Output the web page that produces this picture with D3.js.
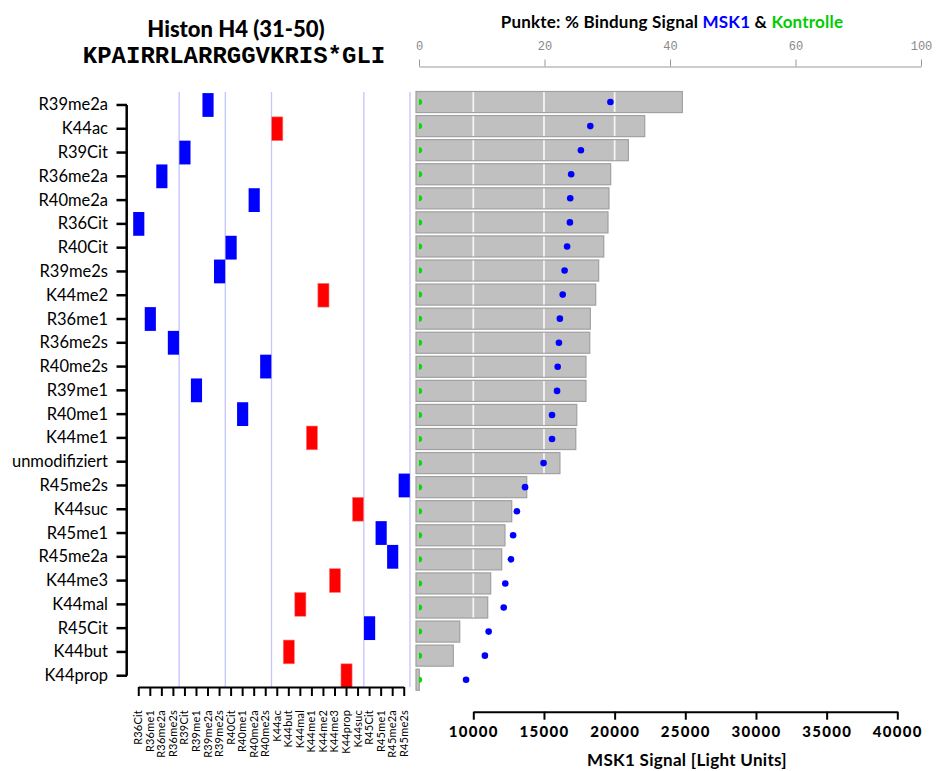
<!DOCTYPE html>
<html><head><meta charset="utf-8">
<script src="https://cdn.jsdelivr.net/npm/d3@7"></script>
<style>body{margin:0;background:#fff}</style>
</head><body><svg id="c" width="940" height="771"></svg>
<script>
// ---------- DATA ----------
const rows = ["R39me2a","K44ac","R39Cit","R36me2a","R40me2a","R36Cit","R40Cit","R39me2s","K44me2","R36me1","R36me2s","R40me2s","R39me1","R40me1","K44me1","unmodifiziert","R45me2s","K44suc","R45me1","R45me2a","K44me3","K44mal","R45Cit","K44but","K44prop"];
const rowModification = ["R39me2a","K44ac","R39Cit","R36me2a","R40me2a","R36Cit","R40Cit","R39me2s","K44me2","R36me1","R36me2s","R40me2s","R39me1","R40me1","K44me1",null,"R45me2s","K44suc","R45me1","R45me2a","K44me3","K44mal","R45Cit","K44but","K44prop"];
const columns = ["R36Cit","R36me1","R36me2a","R36me2s","R39Cit","R39me1","R39me2a","R39me2s","R40Cit","R40me1","R40me2a","R40me2s","K44ac","K44but","K44mal","K44me1","K44me2","K44me3","K44prop","K44suc","R45Cit","R45me1","R45me2a","R45me2s"];
const msk1Signal = [24790,22130,20970,19720,19600,19530,19230,18870,18660,18280,18240,17970,17970,17320,17250,16130,13780,12720,12240,12010,11230,11020,9040,8585,6180];
const msk1Percent = [30.5,27.3,25.8,24.25,24.1,24.05,23.6,23.2,22.9,22.45,22.3,22.1,22.0,21.2,21.2,19.85,16.9,15.6,15.0,14.65,13.75,13.5,11.1,10.5,7.5];
const kontrollePercent = [0.1,0.1,0.1,0.1,0.1,0.1,0.1,0.1,0.1,0.1,0.1,0.1,0.1,0.1,0.1,0.1,0.1,0.1,0.1,0.1,0.1,0.1,0.1,0.1,0.1];
const pctTickValues = [0,20,40,60,80];
const pctTickLabels = ["0","20","40","60","100"];
const signalTicks = [10000,15000,20000,25000,30000,35000,40000];
const signalGrid = [10000,15000,20000,25000];

// ---------- SETUP ----------
const svg = d3.select("#c");
const FONT = "Lato, 'Open Sans', sans-serif";
const BLUE = "#0000ff", RED = "#ff0000", GREEN = "#00dd00";

// Titles
svg.append("text").attr("x",236).attr("y",37).attr("text-anchor","middle")
  .style("font-family",FONT).style("font-weight","900").style("font-size","22px")
  .text("Histon H4 (31-50)");
svg.append("text").attr("x",234).attr("y",63).attr("text-anchor","middle")
  .style("font-family","'Liberation Mono','Courier New',monospace").style("font-weight","bold").style("font-size","24px")
  .text("KPAIRRLARRGGVKRIS*GLI");

const hdr = svg.append("text").attr("x",672).attr("y",28).attr("text-anchor","middle")
  .style("font-family",FONT).style("font-weight","bold").style("font-size","17px").style("letter-spacing","0.2px");
hdr.append("tspan").attr("fill","#000").text("Punkte: % Bindung Signal ");
hdr.append("tspan").attr("fill",BLUE).text("MSK1");
hdr.append("tspan").attr("fill","#000").text(" & ");
hdr.append("tspan").attr("fill","#00cc00").text("Kontrolle");

// ---------- LEFT PANEL ----------
const yL = d3.scaleBand().domain(rows).range([93.1, 687.6]);
const xC = d3.scaleBand().domain(columns).range([133, 410]);
const cx = c => xC(c) + xC.bandwidth()/2;
const cyL = r => yL(r) + yL.bandwidth()/2;

// group separators
const seps = [];
columns.forEach((c,i) => {
  const g = c.slice(0,3);
  const next = columns[i+1];
  if (!next || next.slice(0,3) !== g) seps.push(xC(c) + xC.bandwidth());
});
svg.append("g").selectAll("line").data(seps).join("line")
  .attr("x1",d=>d).attr("x2",d=>d).attr("y1",92).attr("y2",687)
  .attr("stroke","#c4c4ff").attr("stroke-width",1.3);

// modification rects
svg.append("g").selectAll("rect")
  .data(rows.map((r,i)=>({r, m:rowModification[i]})).filter(d=>d.m))
  .join("rect")
  .attr("x",d=>xC(d.m)+0.2).attr("width",xC.bandwidth()-0.4)
  .attr("y",d=>yL(d.r)).attr("height",yL.bandwidth())
  .attr("fill",d=>d.m[0]==="K"?RED:BLUE)
  .attr("stroke",d=>d.m[0]==="K"?"#ff8080":"none").attr("stroke-width",0.6);

// left y axis
const ya = svg.append("g");
ya.append("line").attr("x1",126.7).attr("x2",126.7)
  .attr("y1",cyL(rows[0])).attr("y2",cyL(rows[rows.length-1]))
  .attr("stroke","#000").attr("stroke-width",2.5);
ya.selectAll("line.t").data(rows).join("line").attr("class","t")
  .attr("x1",116.5).attr("x2",127).attr("y1",cyL).attr("y2",cyL)
  .attr("stroke","#000").attr("stroke-width",2.5);
ya.selectAll("text").data(rows).join("text")
  .attr("x",108).attr("y",d=>cyL(d)+5.5).attr("text-anchor","end")
  .style("font-family",FONT).style("font-size","16.5px").text(d=>d);

// left x axis
const xa = svg.append("g");
xa.append("line").attr("x1",cx(columns[0])).attr("x2",cx(columns[columns.length-1]))
  .attr("y1",687.5).attr("y2",687.5).attr("stroke","#000").attr("stroke-width",2);
xa.selectAll("line.t").data(columns).join("line").attr("class","t")
  .attr("x1",cx).attr("x2",cx).attr("y1",687).attr("y2",696)
  .attr("stroke","#000").attr("stroke-width",2);
xa.selectAll("text").data(columns).join("text")
  .attr("transform",d=>`translate(${cx(d)+3.5},710) rotate(-90)`)
  .attr("text-anchor","end")
  .style("font-family",FONT).style("font-size","11px").style("letter-spacing","0.2px").text(d=>d);

// ---------- RIGHT PANEL ----------
const panelLeft = 416;
const yR = d3.scaleBand().domain(rows).range([90, 691.75]).paddingInner(0.125).paddingOuter(0.0625);
const cyR = r => yR(r) + yR.bandwidth()/2;
const xS = d3.scaleLinear().domain([10000,40000]).range([473.3,897.3]);
const xP = d3.scaleLinear().domain([0,80]).range([419,921]);

// bars
const bars = svg.append("g");
bars.selectAll("rect").data(rows).join("rect")
  .attr("x",panelLeft).attr("y",d=>yR(d))
  .attr("width",(d,i)=>Math.max(0,xS(msk1Signal[i])-panelLeft))
  .attr("height",yR.bandwidth())
  .attr("fill","#c0c0c0").attr("stroke","#a0a0a0").attr("stroke-width",1.2);
// white gridlines inside bars
const gridSegs = [];
rows.forEach((r,i)=>signalGrid.forEach(g=>{ if (xS(g) < xS(msk1Signal[i]) - 1) gridSegs.push({r,g}); }));
bars.selectAll("line").data(gridSegs).join("line")
  .attr("x1",d=>xS(d.g)).attr("x2",d=>xS(d.g))
  .attr("y1",d=>yR(d.r)+0.6).attr("y2",d=>yR(d.r)+yR.bandwidth()-0.6)
  .attr("stroke","#f4f4f4").attr("stroke-width",1.8);

// top percent axis
const topAx = svg.append("g").attr("transform","translate(0,66.5)")
  .call(d3.axisTop(xP).tickValues(pctTickValues).tickFormat((d,i)=>pctTickLabels[i])
    .tickSize(7).tickSizeOuter(0).tickPadding(10));
topAx.select(".domain").attr("stroke","#999");
topAx.selectAll(".tick line").attr("stroke","#999");
topAx.selectAll("text").attr("fill","#888")
  .style("font-family","'Liberation Mono','DejaVu Sans Mono',monospace").style("font-size","12px");

// dots
svg.append("defs").append("clipPath").attr("id","clipR")
  .append("rect").attr("x",xP(0)).attr("y",80).attr("width",520).attr("height",620);
svg.append("g").attr("clip-path","url(#clipR)").selectAll("circle").data(rows).join("circle")
  .attr("cx",(d,i)=>xP(kontrollePercent[i])-0.5).attr("cy",cyR).attr("r",3)
  .attr("fill",GREEN);
svg.append("g").selectAll("circle").data(rows).join("circle")
  .attr("cx",(d,i)=>xP(msk1Percent[i])).attr("cy",cyR).attr("r",3.3)
  .attr("fill",BLUE);

// bottom signal axis
const botAx = svg.append("g").attr("transform","translate(0,711.7)")
  .call(d3.axisBottom(xS).tickValues(signalTicks).tickFormat(d3.format("d"))
    .tickSize(8).tickSizeOuter(0).tickPadding(7));
botAx.select(".domain").attr("stroke","#000").attr("stroke-width",2);
botAx.selectAll(".tick line").attr("stroke","#000").attr("stroke-width",2);
botAx.selectAll("text").attr("fill","#000")
  .style("font-family",FONT).style("font-weight","900").style("font-size","15px").style("letter-spacing","1.3px");

svg.append("text").attr("x",687).attr("y",766).attr("text-anchor","middle")
  .style("font-family",FONT).style("font-weight","bold").style("font-size","17px").style("letter-spacing","0.3px")
  .text("MSK1 Signal [Light Units]");
</script>
</body></html>
